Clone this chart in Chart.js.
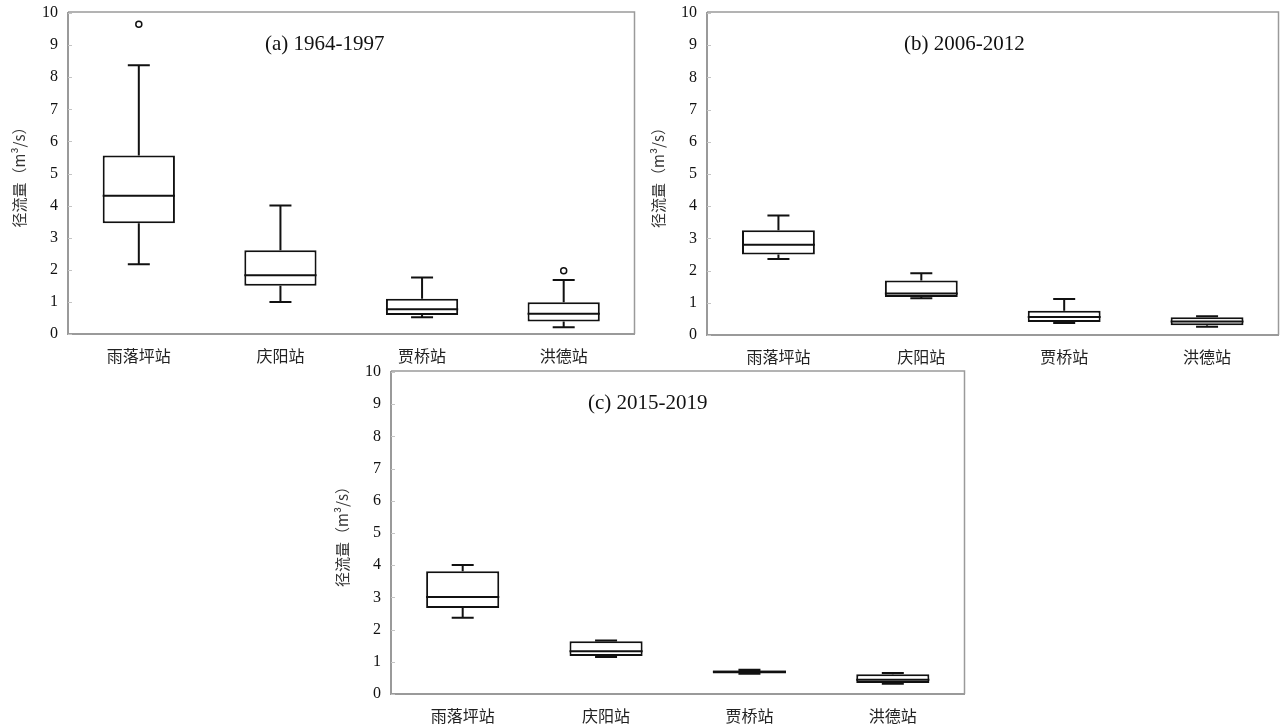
<!DOCTYPE html>
<html>
<head>
<meta charset="utf-8">
<script src="https://cdn.jsdelivr.net/npm/chart.js@4.4.0/dist/chart.umd.min.js"></script>
<style>
  body { margin: 0; background: #fff; }
  .panel { position: absolute; }
</style>
</head>
<body>
<div class="panel" id="wrapA" style="left:0;top:0;width:640px;height:372px"><canvas id="chartA"></canvas></div>
<div class="panel" id="wrapB" style="left:639px;top:0;width:645px;height:372px"><canvas id="chartB"></canvas></div>
<div class="panel" id="wrapC" style="left:323px;top:359px;width:647px;height:366px"><canvas id="chartC"></canvas></div>
<script>
// ==================== DATA =====================
const stations = ["雨落坪站", "庆阳站", "贾桥站", "洪德站"];
const yTicks = [0, 1, 2, 3, 4, 5, 6, 7, 8, 9, 10];

// (a) 1964-1997
const minA = [2.17, 1.0, 0.52, 0.21];
const q1A = [3.45, 1.5, 0.59, 0.39];
const medA = [4.31, 1.83, 0.77, 0.63];
const q3A = [5.56, 2.61, 1.1, 0.99];
const maxA = [8.37, 4.0, 1.76, 1.68];
const outA = [9.65, null, null, 1.97];

// (b) 2006-2012
const minB = [2.36, 1.14, 0.37, 0.26];
const q1B = [2.5, 1.18, 0.4, 0.3];
const medB = [2.8, 1.29, 0.56, 0.42];
const q3B = [3.25, 1.69, 0.75, 0.55];
const maxB = [3.71, 1.92, 1.12, 0.58];
const outB = [null, null, null, null];

// (c) 2015-2019
const minC = [2.37, 1.15, 0.63, 0.32];
const q1C = [2.67, 1.18, 0.64, 0.34];
const medC = [3.01, 1.33, 0.69, 0.44];
const q3C = [3.81, 1.64, 0.73, 0.61];
const maxC = [4.01, 1.66, 0.75, 0.655];
const outC = [null, null, null, null];

// ============== BOX PLOT PLUGIN ===============
const boxPlugin = {
  id: "boxWhiskers",
  afterDatasetsDraw(chart, args, opts) {
    const ctx = chart.ctx;
    const y = chart.scales.y;
    const area = chart.chartArea;
    const bars = chart.getDatasetMeta(0).data;
    ctx.save();
    ctx.strokeStyle = "#111";
    ctx.lineWidth = 2;
    bars.forEach((bar, i) => {
      const x = bar.x;
      const half = bar.width / 2;
      const cap = 11;
      const yMin = y.getPixelForValue(opts.min[i]);
      const yQ1 = y.getPixelForValue(opts.q1[i]);
      const yMed = y.getPixelForValue(opts.med[i]);
      const yQ3 = y.getPixelForValue(opts.q3[i]);
      const yMax = y.getPixelForValue(opts.max[i]);
      ctx.beginPath();
      // whiskers
      ctx.moveTo(x, yQ3); ctx.lineTo(x, yMax);
      ctx.moveTo(x - cap, yMax); ctx.lineTo(x + cap, yMax);
      ctx.moveTo(x, yQ1); ctx.lineTo(x, yMin);
      ctx.moveTo(x - cap, yMin); ctx.lineTo(x + cap, yMin);
      // median
      ctx.moveTo(x - half, yMed); ctx.lineTo(x + half, yMed);
      ctx.stroke();
    });
    // frame (top / right)
    ctx.strokeStyle = "#9a9a9a";
    ctx.lineWidth = 1.5;
    ctx.beginPath();
    ctx.moveTo(area.left, area.top - 1);
    ctx.lineTo(area.right, area.top - 1);
    ctx.lineTo(area.right, area.bottom);
    ctx.stroke();
    // small inward ticks on the y axis
    ctx.strokeStyle = "#c4c4c4";
    ctx.lineWidth = 1;
    ctx.beginPath();
    yTicks.forEach((t) => {
      const py = Math.round(y.getPixelForValue(t)) + 0.5;
      ctx.moveTo(area.left, py); ctx.lineTo(area.left + 4, py);
    });
    ctx.stroke();
    // panel label
    ctx.fillStyle = "#111";
    ctx.font = "21px 'Liberation Serif', serif";
    ctx.textBaseline = "middle";
    ctx.textAlign = "left";
    ctx.fillText(opts.label, area.left + 197, area.top + 31);
    ctx.restore();
  },
};

// ============== RENDER PANEL ===============
function renderPanel(id, label, mins, q1s, meds, q3s, maxs, outs, pad, xHeight) {
  const ctx = document.getElementById(id).getContext("2d");
  return new Chart(ctx, {
    type: "bar",
    data: {
      labels: stations,
      datasets: [
        {
          data: q1s.map((q, i) => [q, q3s[i]]),
          backgroundColor: "#fff",
          borderColor: "#111",
          borderWidth: 2,
          borderSkipped: false,
          barPercentage: 0.51,
          categoryPercentage: 1,
        },
        {
          type: "line",
          data: outs,
          showLine: false,
          pointRadius: 3,
          pointBorderWidth: 1.5,
          pointBorderColor: "#111",
          pointBackgroundColor: "#fff",
        },
      ],
    },
    options: {
      responsive: true,
      maintainAspectRatio: false,
      animation: false,
      events: [],
      layout: { padding: pad },
      plugins: {
        legend: { display: false },
        tooltip: { enabled: false },
        boxWhiskers: { label: label, min: mins, q1: q1s, med: meds, q3: q3s, max: maxs },
      },
      scales: {
        x: {
          offset: true,
          grid: { display: false, drawTicks: false },
          border: { display: true, color: "#9a9a9a", width: 2 },
          ticks: {
            padding: 12,
            color: "#222",
            font: { size: 16, family: "'Noto Sans CJK SC', sans-serif" },
          },
          afterFit: (s) => { s.height = xHeight; },
        },
        y: {
          min: 0,
          max: 10,
          grid: { display: false, drawTicks: false },
          border: { display: true, color: "#9a9a9a", width: 2 },
          afterBuildTicks: (s) => { s.ticks = yTicks.map((v) => ({ value: v })); },
          ticks: {
            padding: 10,
            color: "#111",
            font: { size: 16, family: "'Liberation Serif', serif" },
          },
          title: {
            display: true,
            text: "径流量（m³/s）",
            color: "#333",
            padding: { top: 10, bottom: 0 },
            font: { size: 15, family: "'Noto Sans CJK SC', sans-serif" },
          },
          afterFit: (s) => {
            s.width = 68;
            s.paddingTop = 0;
            s.paddingBottom = 0;
          },
        },
      },
    },
    plugins: [boxPlugin],
  });
}

// =========== INIT ================
renderPanel("chartA", "(a) 1964-1997", minA, q1A, medA, q3A, maxA, outA,
  { top: 13, right: 3, left: 0, bottom: 0 }, 38);
renderPanel("chartB", "(b) 2006-2012", minB, q1B, medB, q3B, maxB, outB,
  { top: 13, right: 2, left: 0, bottom: 0 }, 37);
renderPanel("chartC", "(c) 2015-2019", minC, q1C, medC, q3C, maxC, outC,
  { top: 13, right: 2, left: 0, bottom: 0 }, 31);
</script>
</body>
</html>
